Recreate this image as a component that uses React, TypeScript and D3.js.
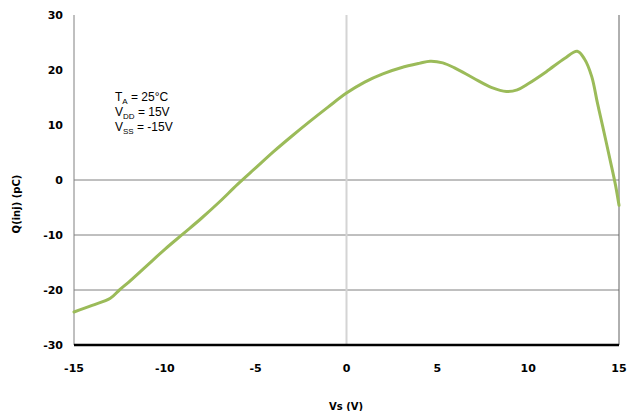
import React from "react";
import * as d3 from "d3";

const vs = [-15, -14, -13, -12.5, -12, -11, -10, -9, -8, -7, -6, -5, -4, -3, -2, -1, 0, 1, 2, 3, 4, 4.6, 5.3, 6, 7, 8, 8.8, 9.4, 10, 11, 12, 12.7, 13.1, 13.5, 13.8, 14.1, 14.5, 14.8, 15];
const qinj = [-24, -22.8, -21.5, -20, -18.6, -15.6, -12.6, -9.8, -7, -4, -0.8, 2.2, 5.2, 8, 10.7, 13.3, 15.8, 17.8, 19.3, 20.4, 21.2, 21.6, 21.3, 20.3, 18.5, 16.8, 16.1, 16.4, 17.5, 19.7, 22.1, 23.4, 22, 18.8, 14.2, 9.8, 3.8, -0.8, -4.6];
const xTicks = [-15, -10, -5, 0, 5, 10, 15];
const yTicks = [-30, -20, -10, 0, 10, 20, 30];
const gridYs = [-20, -10, 0];

const W = 627, H = 411;
const L = 74, R = 619, T = 15, B = 345;

export default function App() {
  const x = d3.scaleLinear().domain([-15, 15]).range([L, R]);
  const y = d3.scaleLinear().domain([-30, 30]).range([B, T]);
  const pts = vs.map((v, i) => [v, qinj[i]] as [number, number]);
  const line = d3.line<[number, number]>().x(d => x(d[0])).y(d => y(d[1])).curve(d3.curveCatmullRom.alpha(0.5));
  const tickFont = { fontFamily: "'DejaVu Sans', Verdana, sans-serif", fontWeight: "bold", fontSize: 11, fill: "#000" } as const;
  const annFont = { fontFamily: "'Liberation Sans', Arial, sans-serif", fontSize: 12, fill: "#000" } as const;
  return (
    <svg width={W} height={H} style={{ position: "absolute", left: 0, top: 0, background: "#fff" }}>
      {gridYs.map(g => (
        <line key={g} x1={L} x2={R} y1={y(g)} y2={y(g)} stroke="#808080" strokeWidth={1} />
      ))}
      <line x1={x(0)} x2={x(0)} y1={T} y2={B} stroke="#d4d4d4" strokeWidth={2} />
      <line x1={L} x2={L} y1={T} y2={B} stroke="#808080" strokeWidth={1} />
      <line x1={R} x2={R} y1={T} y2={B} stroke="#606060" strokeWidth={1} />
      <path d={line(pts) || ""} fill="none" stroke="#9bbb59" strokeWidth={3} strokeLinejoin="round" strokeLinecap="round" />
      <line x1={L} x2={R} y1={B} y2={B} stroke="#000" strokeWidth={2.5} />
      {yTicks.map(t => (
        <text key={t} x={63} y={y(t)} dy="0.35em" textAnchor="end" {...tickFont}>{t}</text>
      ))}
      {xTicks.map(t => (
        <text key={t} x={x(t)} y={368} dy="0.35em" textAnchor="middle" {...tickFont}>{t}</text>
      ))}
      <text x={346} y={406} dy="0.35em" textAnchor="middle" {...tickFont} fontSize={10}>Vs (V)</text>
      <text transform={`translate(16,204) rotate(-90)`} dy="0.35em" textAnchor="middle" {...tickFont} fontSize={10}>Q(inj) (pC)</text>
      <text x={115} y={101} {...annFont}>T<tspan fontSize={8} dy={3}>A</tspan><tspan dy={-3}> = 25°C</tspan></text>
      <text x={115} y={116} {...annFont}>V<tspan fontSize={8} dy={3}>DD</tspan><tspan dy={-3}> = 15V</tspan></text>
      <text x={115} y={131} {...annFont}>V<tspan fontSize={8} dy={3}>SS</tspan><tspan dy={-3}> = -15V</tspan></text>
    </svg>
  );
}
